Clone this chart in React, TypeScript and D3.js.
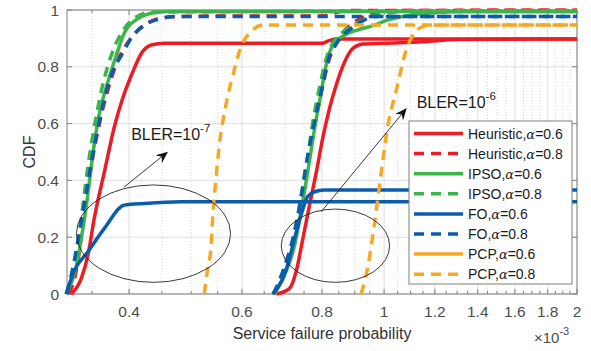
import React, { useEffect, useRef } from "react";
import * as d3 from "d3";

type Pt = [number, number];

// x: service failure probability (x1e-3), y: CDF
// each scheme has one curve for BLER=1e-7 (left) and one for BLER=1e-6 (right)
const heur06Bler7: Pt[] = [
  [0.325, 0], [0.337, 0.056], [0.345, 0.137], [0.353, 0.267], [0.366, 0.43], [0.38, 0.595],
  [0.391, 0.69], [0.405, 0.78], [0.418, 0.847], [0.433, 0.877], [0.454, 0.883], [0.6, 0.883],
  [0.8, 0.883], [0.82, 0.892], [0.843, 0.898], [2, 0.898],
];
const heur06Bler6: Pt[] = [
  [0.679, 0], [0.712, 0.02], [0.729, 0.079], [0.747, 0.196], [0.765, 0.313], [0.784, 0.43],
  [0.802, 0.548], [0.822, 0.654], [0.842, 0.736], [0.868, 0.818], [0.894, 0.865], [0.927, 0.88],
  [1.0, 0.883], [1.15, 0.888], [1.3, 0.896], [2, 0.898],
];
const heur08Bler7: Pt[] = [
  [0.322, 0], [0.332, 0.1], [0.34, 0.28], [0.351, 0.48], [0.362, 0.63], [0.373, 0.74],
  [0.382, 0.81], [0.398, 0.885], [0.428, 0.955], [0.46, 0.975], [0.55, 0.979], [0.8, 0.979],
  [0.84, 0.99], [0.87, 0.998], [2, 0.999],
];
const heur08Bler6: Pt[] = [
  [0.672, 0], [0.7, 0.08], [0.725, 0.19], [0.745, 0.33], [0.76, 0.45], [0.78, 0.6], [0.8, 0.72],
  [0.817, 0.81], [0.84, 0.88], [0.87, 0.93], [0.91, 0.965], [0.97, 0.99], [1.05, 0.998], [2, 0.999],
];
const ipso06Bler7: Pt[] = [
  [0.319, 0], [0.331, 0.1], [0.337, 0.197], [0.343, 0.31], [0.351, 0.49], [0.359, 0.63],
  [0.371, 0.75], [0.382, 0.84], [0.393, 0.918], [0.413, 0.97], [0.438, 0.99], [0.465, 0.995], [2, 0.995],
];
const ipso06Bler6: Pt[] = [
  [0.674, 0], [0.703, 0.079], [0.725, 0.172], [0.742, 0.29], [0.76, 0.43], [0.779, 0.583],
  [0.798, 0.712], [0.812, 0.806], [0.832, 0.877], [0.868, 0.912], [0.91, 0.93], [0.967, 0.947],
  [1.014, 0.965], [1.058, 0.975], [1.191, 0.99], [1.361, 0.995], [2, 0.995],
];
const ipso08Bler7: Pt[] = [
  [0.319, 0], [0.328, 0.1], [0.336, 0.25], [0.345, 0.45], [0.355, 0.62], [0.366, 0.76],
  [0.378, 0.86], [0.392, 0.93], [0.41, 0.975], [0.435, 0.993], [2, 0.997],
];
const ipso08Bler6: Pt[] = [
  [0.672, 0], [0.7, 0.09], [0.722, 0.2], [0.74, 0.33], [0.757, 0.46], [0.776, 0.62], [0.795, 0.74],
  [0.81, 0.82], [0.83, 0.88], [0.86, 0.92], [0.9, 0.95], [0.95, 0.975], [1.02, 0.99], [1.1, 0.997], [2, 0.997],
];
const fo06Bler7: Pt[] = [
  [0.319, 0], [0.328, 0.079], [0.345, 0.149], [0.366, 0.231], [0.393, 0.313], [0.423, 0.319],
  [0.482, 0.325], [2, 0.325],
];
const fo06Bler6: Pt[] = [
  [0.67, 0], [0.695, 0.055], [0.707, 0.102], [0.725, 0.196], [0.742, 0.278], [0.76, 0.343],
  [0.779, 0.36], [0.807, 0.366], [2, 0.366],
];
const fo08Bler7: Pt[] = [
  [0.32, 0], [0.328, 0.11], [0.339, 0.29], [0.351, 0.49], [0.362, 0.64], [0.375, 0.77],
  [0.389, 0.84], [0.403, 0.9], [0.423, 0.947], [0.449, 0.97], [0.471, 0.977], [2, 0.977],
];
const fo08Bler6: Pt[] = [
  [0.672, 0], [0.7, 0.1], [0.725, 0.22], [0.74, 0.32], [0.755, 0.45], [0.779, 0.607], [0.802, 0.736],
  [0.817, 0.818], [0.847, 0.889], [0.889, 0.935], [0.921, 0.959], [0.97, 0.977], [2, 0.977],
];
const pcp06Bler7: Pt[] = []; // not visible within the plotted range
const pcp06Bler6: Pt[] = [];
const pcp08Bler7: Pt[] = [
  [0.524, 0], [0.53, 0.084], [0.537, 0.167], [0.541, 0.296], [0.547, 0.413], [0.55, 0.472],
  [0.567, 0.671], [0.58, 0.765], [0.598, 0.871], [0.62, 0.924], [0.647, 0.947], [2, 0.947],
];
const pcp08Bler6: Pt[] = [
  [0.921, 0], [0.944, 0.1], [0.967, 0.255], [0.99, 0.43], [1.014, 0.595], [1.045, 0.718],
  [1.083, 0.86], [1.116, 0.92], [1.157, 0.944], [1.2, 0.947], [2, 0.947],
];

const schemes = ["Heuristic", "Heuristic", "IPSO", "IPSO", "FO", "FO", "PCP", "PCP"];
const alphas = ["0.6", "0.8", "0.6", "0.8", "0.6", "0.8", "0.6", "0.8"];
const colors = ["#ec1c24", "#ec1c24", "#3cb44b", "#3cb44b", "#0b5cad", "#0b5cad", "#f7a823", "#f7a823"];
const curves = [
  [heur06Bler7, heur06Bler6], [heur08Bler7, heur08Bler6], [ipso06Bler7, ipso06Bler6], [ipso08Bler7, ipso08Bler6],
  [fo06Bler7, fo06Bler6], [fo08Bler7, fo08Bler6], [pcp06Bler7, pcp06Bler6], [pcp08Bler7, pcp08Bler6],
];

const xTicks = [0.4, 0.6, 0.8, 1, 1.2, 1.4, 1.6, 1.8, 2];
const yTicks = [0, 0.2, 0.4, 0.6, 0.8, 1];

// annotations (data units)
const ellipse7 = { x0: 0.331, x1: 0.576, y0: 0.041, y1: 0.384 };
const ellipse6 = { x0: 0.691, x1: 1.02, y0: 0.041, y1: 0.299 };
const arrow7: Pt[] = [[0.393, 0.377], [0.46, 0.501]];
const arrow6: Pt[] = [[0.798, 0.29], [1.085, 0.655]];
const label7 = { x: 0.403, y: 0.542, exp: "-7" };
const label6 = { x: 1.124, y: 0.655, exp: "-6" };

const FONT = "'Liberation Sans', Arial, Helvetica, sans-serif";

const App = () => {
  const svgRef = useRef<SVGSVGElement>(null);

  useEffect(() => {
    const width = 591;
    const height = 351;
    const left = 67, right = 577, top = 10, bottom = 294;

    const svg = d3.select(svgRef.current);
    svg.selectAll("*").remove();
    svg.attr("width", width).attr("height", height).attr("viewBox", [0, 0, width, height]);

    svg.append("rect").attr("width", width).attr("height", height).attr("fill", "white");

    const x = d3.scaleLog().domain([0.32, 2]).range([left, right]);
    const y = d3.scaleLinear().domain([0, 1]).range([bottom, top]);

    const minorX = d3.range(35, 201, 5).map((v) => v / 100).filter((v) => !xTicks.some((t) => Math.abs(t - v) < 1e-6));

    // grid
    const grid = svg.append("g");
    grid.selectAll("line.minor").data(minorX).join("line")
      .attr("x1", (d) => x(d)).attr("x2", (d) => x(d)).attr("y1", top).attr("y2", bottom)
      .attr("stroke", "#cfcfcf").attr("stroke-width", 0.8).attr("stroke-dasharray", "1,2");
    grid.selectAll("line.vmaj").data(xTicks).join("line")
      .attr("x1", (d) => x(d)).attr("x2", (d) => x(d)).attr("y1", top).attr("y2", bottom)
      .attr("stroke", "#dedede").attr("stroke-width", 1);
    grid.append("g").selectAll("line").data(yTicks).join("line")
      .attr("x1", left).attr("x2", right).attr("y1", (d) => y(d)).attr("y2", (d) => y(d))
      .attr("stroke", "#dedede").attr("stroke-width", 1);

    // axes box & ticks
    const ax = svg.append("g").attr("stroke", "#7f7f7f").attr("stroke-width", 1);
    ax.append("rect").attr("x", left).attr("y", top).attr("width", right - left).attr("height", bottom - top)
      .attr("fill", "none");
    [bottom, top].forEach((yy) => {
      const dir = yy === bottom ? -1 : 1;
      ax.append("g").selectAll("line").data(xTicks).join("line")
        .attr("x1", (d) => x(d)).attr("x2", (d) => x(d)).attr("y1", yy).attr("y2", yy + dir * 5);
      ax.append("g").selectAll("line").data(minorX).join("line")
        .attr("x1", (d) => x(d)).attr("x2", (d) => x(d)).attr("y1", yy).attr("y2", yy + dir * 3);
    });
    [left, right].forEach((xx) => {
      const dir = xx === left ? 1 : -1;
      ax.append("g").selectAll("line").data(yTicks).join("line")
        .attr("x1", xx).attr("x2", xx + dir * 5).attr("y1", (d) => y(d)).attr("y2", (d) => y(d));
    });

    const labels = svg.append("g").attr("font-family", FONT).attr("fill", "#4d4d4d").attr("font-size", 15.5);
    labels.selectAll("text.xt").data(xTicks).join("text")
      .attr("x", (d) => x(d)).attr("y", 317).attr("text-anchor", "middle").text((d) => String(d));
    labels.selectAll("text.yt").data(yTicks).join("text")
      .attr("x", 59).attr("y", (d) => y(d) + 5.5).attr("text-anchor", "end").text((d) => String(d));

    labels.append("text").attr("x", (left + right) / 2).attr("y", 339).attr("text-anchor", "middle")
      .attr("font-size", 16).attr("fill", "#333").text("Service failure probability");
    labels.append("text").attr("transform", `translate(35,${(top + bottom) / 2}) rotate(-90)`)
      .attr("text-anchor", "middle").attr("font-size", 16).attr("fill", "#333").text("CDF");
    const mult = labels.append("text").attr("x", 534).attr("y", 343).attr("font-size", 15);
    mult.append("tspan").text("×10");
    mult.append("tspan").attr("font-size", 11).attr("dy", -8).text("-3");

    // curves
    const line = d3.line<Pt>().x((d) => x(d[0])).y((d) => y(d[1])).curve(d3.curveMonotoneX);
    const curveG = svg.append("g").attr("fill", "none").attr("stroke-linejoin", "round");
    curves.forEach((pair, i) => {
      pair.forEach((pts) => {
        if (!pts.length) return;
        curveG.append("path").attr("d", line(pts))
          .attr("stroke", colors[i]).attr("stroke-width", 3.5)
          .attr("stroke-dasharray", i % 2 === 1 ? "10,7" : null);
      });
    });

    // annotations
    const ann = svg.append("g").attr("stroke", "#222").attr("fill", "none");
    [ellipse7, ellipse6].forEach((e) => {
      const cx = (x(e.x0) + x(e.x1)) / 2;
      const cy = (y(e.y0) + y(e.y1)) / 2;
      ann.append("ellipse").attr("cx", cx).attr("cy", cy)
        .attr("rx", Math.abs(x(e.x1) - x(e.x0)) / 2).attr("ry", Math.abs(y(e.y1) - y(e.y0)) / 2)
        .attr("stroke-width", 0.9);
    });
    [arrow7, arrow6].forEach((a) => {
      const [x1, y1] = [x(a[0][0]), y(a[0][1])];
      const [x2, y2] = [x(a[1][0]), y(a[1][1])];
      const len = Math.hypot(x2 - x1, y2 - y1);
      const ux = (x2 - x1) / len, uy = (y2 - y1) / len;
      const nx = -uy, ny = ux;
      const L = 12, w = 5, notch = 8;
      ann.append("line").attr("x1", x1).attr("y1", y1)
        .attr("x2", x2 - ux * notch).attr("y2", y2 - uy * notch).attr("stroke-width", 0.9);
      const head: Pt[] = [
        [x2, y2],
        [x2 - ux * L + nx * w, y2 - uy * L + ny * w],
        [x2 - ux * notch, y2 - uy * notch],
        [x2 - ux * L - nx * w, y2 - uy * L - ny * w],
      ];
      ann.append("polygon").attr("points", head.map((p) => p.join(",")).join(" "))
        .attr("fill", "#111").attr("stroke", "none");
    });
    [label7, label6].forEach((l) => {
      const t = svg.append("text").attr("x", x(l.x)).attr("y", y(l.y))
        .attr("font-family", FONT).attr("font-size", 16).attr("fill", "#1a1a1a");
      t.append("tspan").text("BLER=10");
      t.append("tspan").attr("font-size", 11.5).attr("dy", -8).text(l.exp);
    });

    // legend
    const lg = svg.append("g").attr("font-family", FONT);
    const lx = 409, ly = 121, lw = 163, lh = 163;
    lg.append("rect").attr("x", lx).attr("y", ly).attr("width", lw).attr("height", lh)
      .attr("fill", "white").attr("stroke", "#7f7f7f").attr("stroke-width", 1);
    schemes.forEach((s, i) => {
      const cy = ly + 12.5 + i * 20.1;
      lg.append("line").attr("x1", lx + 5).attr("x2", lx + 54).attr("y1", cy).attr("y2", cy)
        .attr("stroke", colors[i]).attr("stroke-width", 3.5)
        .attr("stroke-dasharray", i % 2 === 1 ? "10,7" : null);
      const t = lg.append("text").attr("x", lx + 59).attr("y", cy + 5).attr("font-size", 14).attr("fill", "#1a1a1a");
      t.append("tspan").text(`${s},`);
      t.append("tspan").attr("font-style", "italic").attr("font-family", "'DejaVu Serif', serif")
        .attr("font-size", 13).text("α");
      t.append("tspan").text(`=${alphas[i]}`);
    });
  }, []);

  return <svg ref={svgRef} style={{ position: "absolute", left: 0, top: 0 }}></svg>;
};

export default App;
